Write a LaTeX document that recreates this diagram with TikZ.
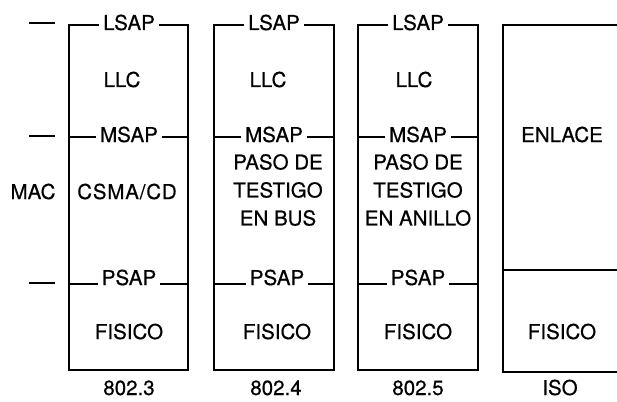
\documentclass[tikz,border=0pt]{standalone}
\usepackage{fontspec}
\setmainfont{TeX Gyre Heros}[FakeBold=0.5]
\begin{document}
\begin{tikzpicture}[x=1pt,y=-1pt,
  frame/.style={draw=black, line width=1.2pt, line join=miter},
  lbl/.style={font=\fontsize{20.5}{28}\selectfont, inner sep=0pt, align=center},
  sap/.style={lbl, fill=white, inner xsep=4pt, inner ysep=1pt, anchor=base}]
\useasboundingbox (0,0) rectangle (617,401);
% left marks
\draw[frame] (29,23) -- (55,23);
\draw[frame] (29,136) -- (55,136);
\draw[frame] (29,283) -- (55,283);
\node[lbl, anchor=base] (mac) at (33,199) {MAC};
% box 1 : 802.3
\draw[frame] (69,25) rectangle (188,370);
\draw[frame] (69,137) -- (188,137);
\draw[frame] (69,284) -- (188,284);
\node[sap] (ls1) at (129,30) {LSAP};
\node[sap] (ms1) at (129,142) {MSAP};
\node[sap] (ps1) at (129,285) {PSAP};
\node[lbl, anchor=base] (llc1) at (122,87) {LLC};
\node[lbl, anchor=base] (cs1) at (127,199) {\addfontfeature{LetterSpace=4}CSMA/CD};
\node[lbl, anchor=base] (fi1) at (129,339) {FISICO};
\node[lbl, anchor=base] (n1) at (129,395) {802.3};
% box 2 : 802.4
\draw[frame] (214,25) rectangle (334,370);
\draw[frame] (214,137) -- (334,137);
\draw[frame] (214,284) -- (334,284);
\node[sap] (ls2) at (274,30) {LSAP};
\node[sap] (ms2) at (274,142) {MSAP};
\node[sap] (ps2) at (277,285) {PSAP};
\node[lbl, anchor=base] (llc2) at (268,87) {LLC};
\node[lbl] (pt2) at (278,190) {PASO DE\\TESTIGO\\EN BUS};
\node[lbl, anchor=base] (fi2) at (277,339) {FISICO};
\node[lbl, anchor=base] (n2) at (276,395) {802.4};
% box 3 : 802.5
\draw[frame] (358,25) rectangle (478,370);
\draw[frame] (358,137) -- (478,137);
\draw[frame] (358,284) -- (478,284);
\node[sap] (ls3) at (418,30) {LSAP};
\node[sap] (ms3) at (418,142) {MSAP};
\node[sap] (ps3) at (418,285) {PSAP};
\node[lbl, anchor=base] (llc3) at (414,87) {LLC};
\node[lbl] (pt3) at (418,190) {PASO DE\\TESTIGO\\EN ANILLO};
\node[lbl, anchor=base] (fi3) at (418,339) {FISICO};
\node[lbl, anchor=base] (n3) at (418,395) {802.5};
% box 4 : ISO
\draw[frame] (617,25) -- (503,25) -- (503,372) -- (617,372);
\draw[frame] (503,270) -- (617,270);
\node[lbl, anchor=base] (en4) at (562,142) {ENLACE};
\node[lbl, anchor=base] (fi4) at (562,339) {FISICO};
\node[lbl, anchor=base] (n4) at (560,395) {ISO};
\end{tikzpicture}
\end{document}
